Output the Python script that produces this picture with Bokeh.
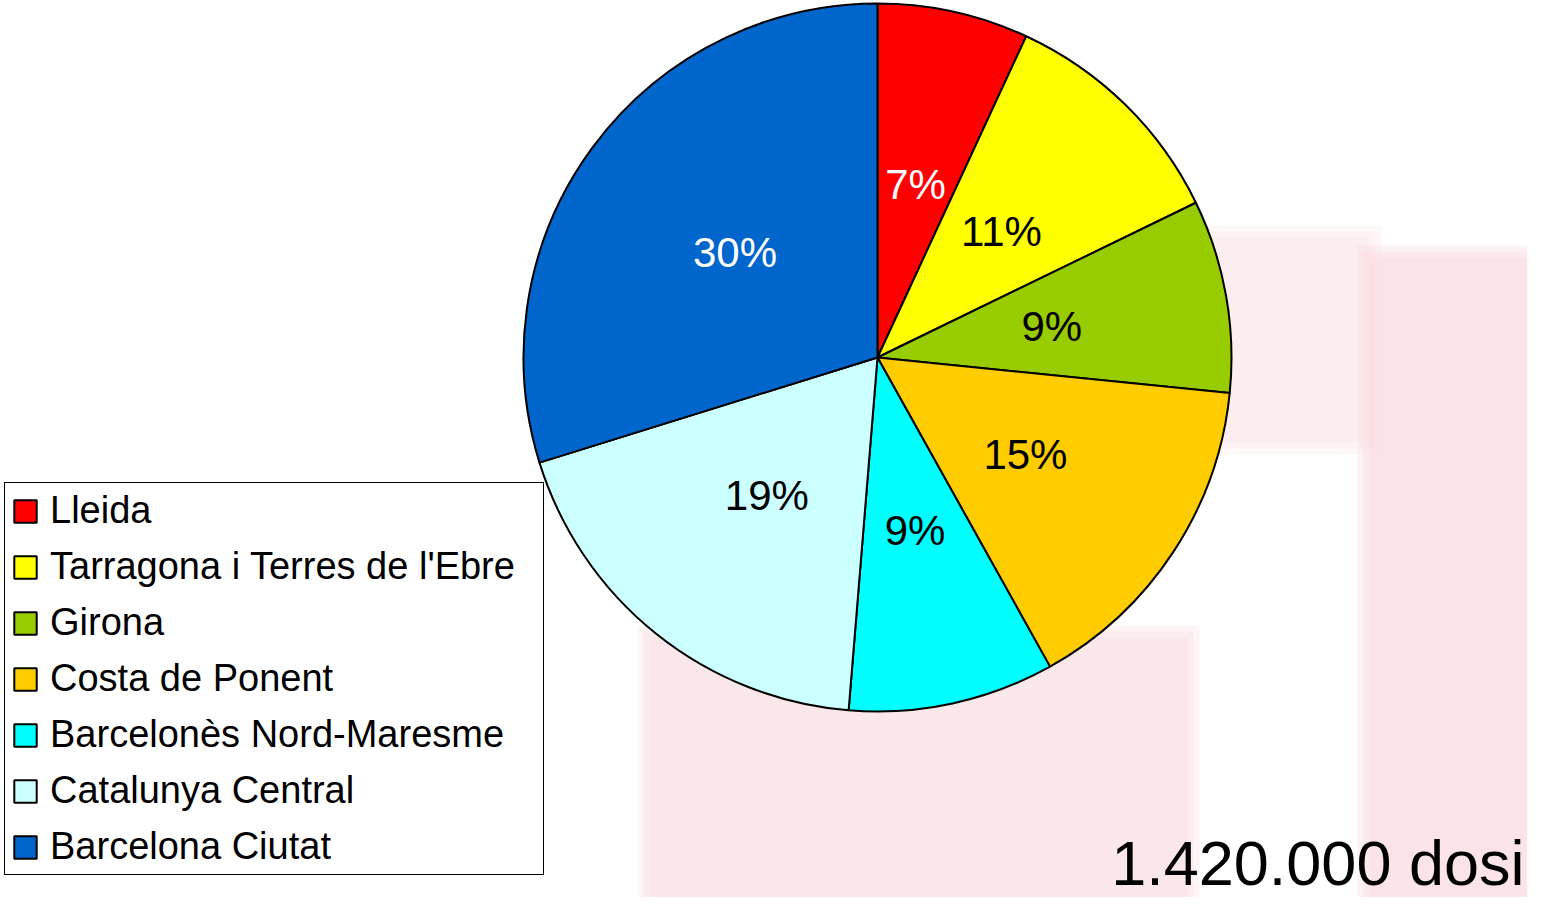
import math
from bokeh.plotting import figure
from bokeh.models import (Range1d, Legend, LegendItem, ColumnDataSource,
                          BoxAnnotation, Label)
from bokeh.core.properties import value
from bokeh.embed import file_html
from bokeh.resources import INLINE

# ---- data ----
regions = ["Lleida", "Tarragona i Terres de l'Ebre", "Girona", "Costa de Ponent",
           "Barcelonès Nord-Maresme", "Catalunya Central", "Barcelona Ciutat"]
shares = [6.9, 10.9, 8.8, 15.3, 9.4, 18.9, 29.8]          # percent of doses
colors = ["#FF0000", "#FFFF00", "#99CC00", "#FFCC00", "#00FFFF", "#CCFFFF", "#0066CC"]
label_colors = ["white", "black", "black", "black", "black", "black", "white"]
total_text = "1.420.000 dosi"

FONT = "Liberation Sans"
W, H = 1527, 897

p = figure(width=W, height=H, x_range=Range1d(8, 8 + W), y_range=Range1d(8, 8 + H),
           output_backend="svg", toolbar_location=None, min_border=0,
           x_axis_location=None, y_axis_location=None)
p.grid.visible = False
p.outline_line_color = None
p.background_fill_color = "white"
p.border_fill_color = "white"

# faint background tint (watermark approximation), soft edges
pink = "#F8D7DC"
for (l, r, t, b, a) in [(1377, 1545, 265, 920, 0.9), (1210, 1377, 245, 450, 0.55),
                        (657, 1195, 645, 920, 0.75)]:
    for grow in (12, 6, 0):
        p.add_layout(BoxAnnotation(left=l - grow, right=r + grow,
                                   top=913 - t + grow, bottom=913 - b - grow,
                                   fill_color=pink, fill_alpha=a / 3, line_color=None,
                                   level="underlay"))

# ---- pie ----
cx, cy, R = 885, 548, 354
total = sum(shares)
cum = [0.0]
for s in shares:
    cum.append(cum[-1] + s / total)
start = [math.pi / 2 - 2 * math.pi * c for c in cum[:-1]]
end = [math.pi / 2 - 2 * math.pi * c for c in cum[1:]]
mid = [(a + b) / 2 for a, b in zip(start, end)]
src = ColumnDataSource(dict(
    region=regions, share=shares, color=colors, start=start, end=end,
    lx=[cx + 0.5 * R * math.cos(m) for m in mid],
    ly=[cy + 0.5 * R * math.sin(m) for m in mid],
    txt=["%d%%" % round(s) for s in shares], tc=label_colors))

wr = p.wedge(x=cx, y=cy, radius=R, start_angle="start", end_angle="end",
             direction="clock", fill_color="color", line_color="black",
             line_width=2, source=src)

p.text(x="lx", y="ly", text="txt", text_color="tc", source=src,
       text_font=value(FONT), text_font_size="42px",
       text_align="center", text_baseline="middle")

# ---- legend ----
legend = Legend(items=[LegendItem(label=n, renderers=[wr], index=i)
                       for i, n in enumerate(regions)],
                location=(4, 22), orientation="vertical",
                label_text_font=FONT, label_text_font_size="38px",
                label_text_color="black",
                glyph_width=28, glyph_height=28, label_standoff=11,
                label_height=42, label_width=487,
                spacing=13, padding=6, margin=0,
                border_line_color="black", border_line_width=1.5,
                border_line_alpha=1.0,
                background_fill_color="white", background_fill_alpha=0.9)
p.add_layout(legend)

p.add_layout(Label(x=1532, y=8, text=total_text, text_align="right",
                   text_baseline="bottom", text_font=FONT,
                   text_font_size="63px", text_color="black"))

open("out.html", "w").write(file_html(p, INLINE))
